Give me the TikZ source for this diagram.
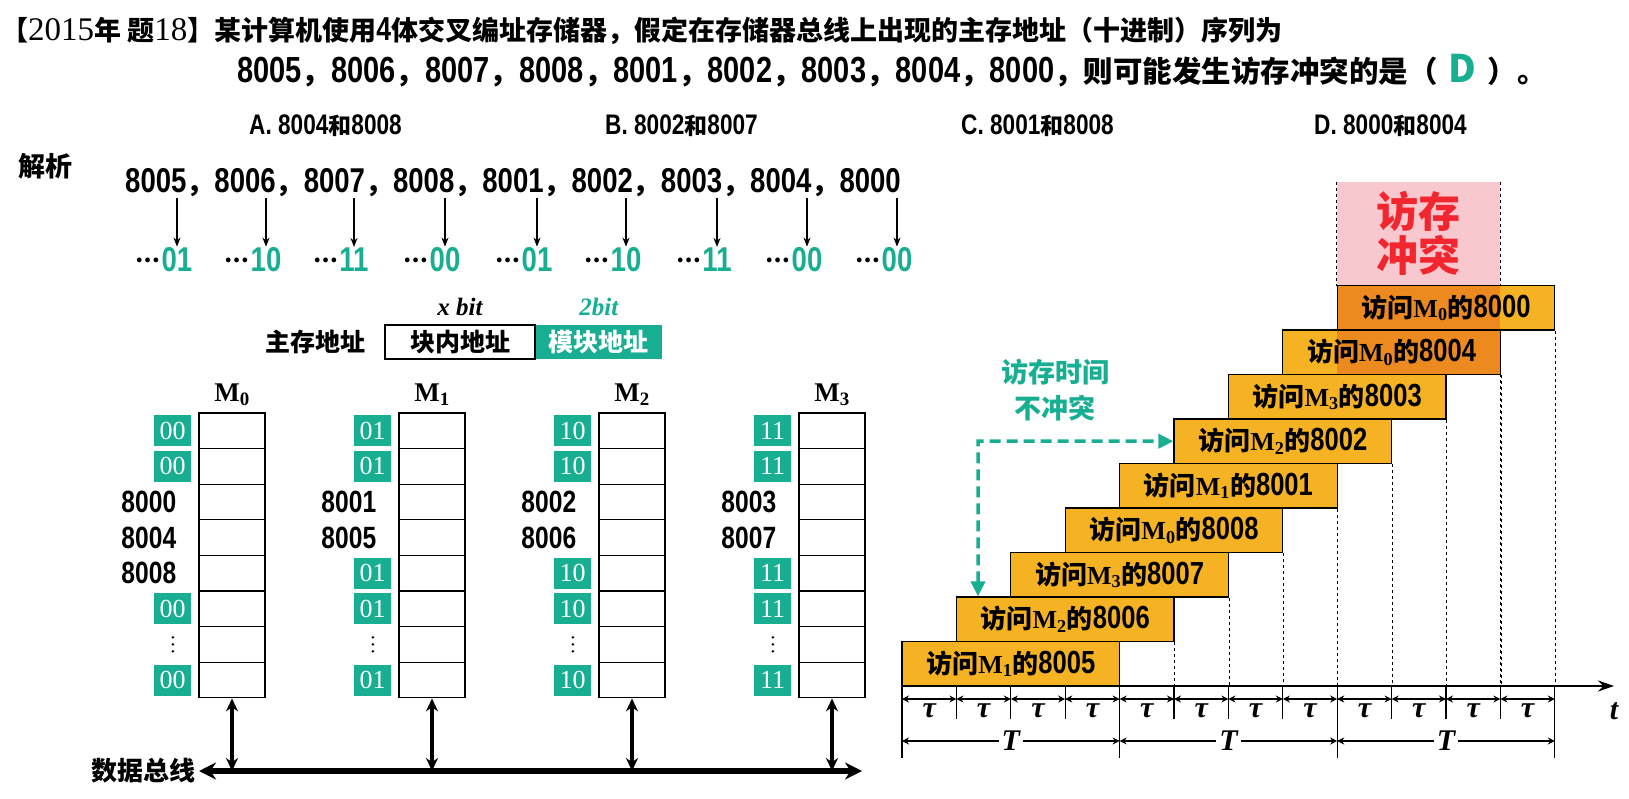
\documentclass[tikz,border=0pt]{standalone}
\usepackage{fontspec}
\setmainfont{Noto Sans CJK SC}
\newfontfamily\ser{Liberation Serif}
\newfontfamily\nar{Liberation Sans}[Scale=1.23,FakeStretch=0.8]
\usetikzlibrary{arrows.meta,positioning,calc}
\definecolor{AddrTeal}{HTML}{17AE92}
\definecolor{AccGold}{HTML}{F5B324}
\definecolor{ClashOrange}{HTML}{EC8A1F}
\definecolor{ClashPink}{HTML}{F9C8CE}
\definecolor{ClashRed}{HTML}{F2262E}
\newcommand\fs[1]{\fontsize{#1}{#1}\selectfont}
\newcommand\Mx[1]{{\ser\bfseries M\textsubscript{#1}}}
\newcommand\seqnums{{\nar 8005}，{\nar 8006}，{\nar 8007}，{\nar 8008}，{\nar 8001}，{\nar 8002}，{\nar 8003}，{\nar 8004}，{\nar 8000}}
\tikzset{txt/.style={inner sep=1pt,font=\bfseries\fs{27}},opt/.style={anchor=west,inner sep=0pt,font=\bfseries\fs{23}},
 low/.style={inner sep=1pt,text=AddrTeal,font=\nar\bfseries\fs{28}},dotlab/.style={inner sep=0pt,text=black,font=\bfseries\fs{22}},
 arr/.style={-{Stealth[length=9pt,width=7pt]},line width=1.3pt},
 cell/.style={draw,line width=1.2pt,minimum width=66pt,minimum height=35.6pt,inner sep=0pt},
 tag/.style={fill=AddrTeal,text=white,minimum width=37pt,minimum height=31pt,inner sep=0pt,font=\ser\fs{26}},
 num/.style={inner sep=0pt,font=\nar\bfseries\fs{25}},
 link/.style={{Stealth[length=13pt,width=12pt]}-{Stealth[length=13pt,width=12pt]},line width=3.6pt},
 bus/.style={{Stealth[length=17pt,width=17pt]}-{Stealth[length=17pt,width=17pt]},line width=6pt},
 acc/.style={draw,line width=1.2pt,fill=AccGold,minimum width=217.6pt,minimum height=44.5pt,inner sep=0pt,font=\bfseries\fs{26}},
 plain/.style={},
 clashL/.style={path picture={\fill[ClashOrange] (path picture bounding box.south west) rectangle ([xshift=-54.4pt]path picture bounding box.north east);}},
 clashR/.style={path picture={\fill[ClashOrange] ([xshift=54.4pt]path picture bounding box.south west) rectangle (path picture bounding box.north east);}},
 gap/.style={dashed,line width=1pt},tick/.style={line width=1.2pt},
 timeline/.style={-{Stealth[length=16pt,width=11pt]},line width=2pt},
 sym/.style={font=\ser\bfseries\itshape\fs{30}},
 span/.style={{Stealth[length=7pt,width=7pt]}-{Stealth[length=7pt,width=7pt]},line width=1.2pt},
 hint/.style={{Triangle[length=15pt,width=14pt]}-{Triangle[length=15pt,width=14pt]},AddrTeal,line width=3.5pt,dash pattern=on 11pt off 6pt}}

\begin{document}
\begin{tikzpicture}[x=1pt,y=-1pt]
\useasboundingbox[fill=white] (0,0) rectangle (1629,799);
% question
\node[txt,anchor=west] (title) at (0,31) {【{\mdseries\ser\fs{33}2015}年 题{\mdseries\ser\fs{33}18}】某计算机使用{\nar 4}体交叉编址存储器，假定在存储器总线上出现的主存地址（十进制）序列为};
\node[txt,font=\bfseries\fs{29.5},anchor=west] (title2) at (236,71) {\seqnums，则可能发生访存冲突的是（\hspace{11pt}{\color{AddrTeal}\fs{38}D}\hspace{11pt}）。};
\node[opt] (optA) at (249,126) {{\nar A. 8004}和{\nar 8008}};
\node[opt] (optB) at (605,126) {{\nar B. 8002}和{\nar 8007}};
\node[opt] (optC) at (961,126) {{\nar C. 8001}和{\nar 8008}};
\node[opt] (optD) at (1314,126) {{\nar D. 8000}和{\nar 8004}};
% address sequence
\node[txt,anchor=west] (jiexi) at (17,166) {解析};
\node[txt,font=\bfseries\fs{28},anchor=west] (seq) at (124,183) {\seqnums};
\foreach \x/\c [count=\i] in {177/01,266/10,354/11,445/00,537/01,626/10,717/11,807/00,897/00}{
 \node[low,label={[dotlab]left:…}] (low\i) at (\x,260) {\c};
 \draw[arr] (seq.south -| low\i.north) -- (low\i.north);}
\node[draw,line width=1.2pt,minimum width=150pt,minimum height=34pt,inner sep=0pt,font=\bfseries\fs{25}] (inblk) at (460,342) {块内地址};
\node[fill=AddrTeal,text=white,minimum width=126pt,minimum height=34pt,inner sep=0pt,font=\bfseries\fs{25},right=0pt of inblk] (modblk) {模块地址};
\node[txt,font=\bfseries\fs{25},left=18pt of inblk] (addr) {主存地址};
\node[font=\ser\bfseries\itshape\fs{25},above=5pt of inblk] (xbit) {x bit};
\node[font=\ser\bfseries\itshape\fs{25},text=AddrTeal,above=5pt of modblk] (twobit) {2bit};
% four modules
\coordinate (busL) at (199,771); \coordinate (busR) at (862,771);
\foreach \j/\c/\p/\q in {0/00/8000/8004,1/01/8001/8005,2/10/8002/8006,3/11/8003/8007}{
 \foreach \r in {0,...,7} \node[cell] (m\j-\r) at (232+200*\j,430.8+35.6*\r) {};
 \node[above=3pt of m\j-0,font=\fs{27}] (name\j) {\Mx{\j}};
 \foreach \r in {0,1,5,7} \node[tag,left=7pt of m\j-\r] {\c};
 \foreach \d in {-7,0,7} \fill ($(m\j-6.west)+(-25.5,\d)$) circle (1.4pt);
 \node[num,left=22pt of m\j-2] {\p}; \node[num,left=22pt of m\j-3] {\q};
 \draw[link] (m\j-7.south) -- (m\j-7.south |- busL);}
\node[num,left=22pt of m0-4] {8008};
\foreach \j/\c in {1/01,2/10,3/11} \node[tag,left=7pt of m\j-4] {\c};
\draw[bus] (busL) -- (busR);
\node[txt,font=\bfseries\fs{26},left=2pt of busL] (busname) {数据总线};
% timing
\coordinate (o) at (902,686); \coordinate (tend) at (1614,686);
\node[fill=ClashPink,minimum width=163.2pt,minimum height=103.5pt,inner sep=0pt,text=ClashRed,font=\bfseries\fontsize{42}{44}\selectfont,align=center] (hot) at (1418.6,233.75) {访存\\冲突};
\draw[gap] (hot.north west) -- (hot.south west); \draw[gap] (hot.north east) -- (hot.north east |- o);
\foreach \k/\m/\a/\s in {0/1/8005/plain,1/2/8006/plain,2/3/8007/plain,3/0/8008/plain,4/1/8001/plain,5/2/8002/plain,6/3/8003/plain,7/0/8004/clashR,8/0/8000/clashL}
 \node[acc,\s] (acc\k) at (1010.8+54.4*\k,663.75-44.5*\k) {访问\Mx{\m}的{\nar\a}};
\foreach \k in {1,...,8} \draw[gap] (acc\k.south east) -- (acc\k.south east |- o);
\draw[timeline] (o) -- (tend);
\node[sym] (tlab) at (1614,711) {t};
\foreach \m in {0,...,12} \draw[tick] (o) ++(54.4*\m,0) -- ++(0,33);
\foreach \m in {0,4,8,12} \draw[tick] (o) ++(54.4*\m,0) -- ++(0,72);
\foreach \m in {0,...,11} \draw[span] (o) ++(54.4*\m,13) -- ++(54.4,0) node[midway,below=1pt,sym] {τ};
\foreach \m in {0,4,8} \draw[span] (o) ++(54.4*\m,55) -- ++(217.6,0) node[midway,fill=white,inner sep=3pt,sym] {T};
\node[font=\bfseries\fontsize{27}{36}\selectfont,text=AddrTeal,align=center] (nohit) at (1055,390) {访存时间\\不冲突};
\coordinate (bend) at (978,441);
\draw[hint] (bend |- acc1.north) -- (bend) -- (acc5.west);
\end{tikzpicture}
\end{document}
